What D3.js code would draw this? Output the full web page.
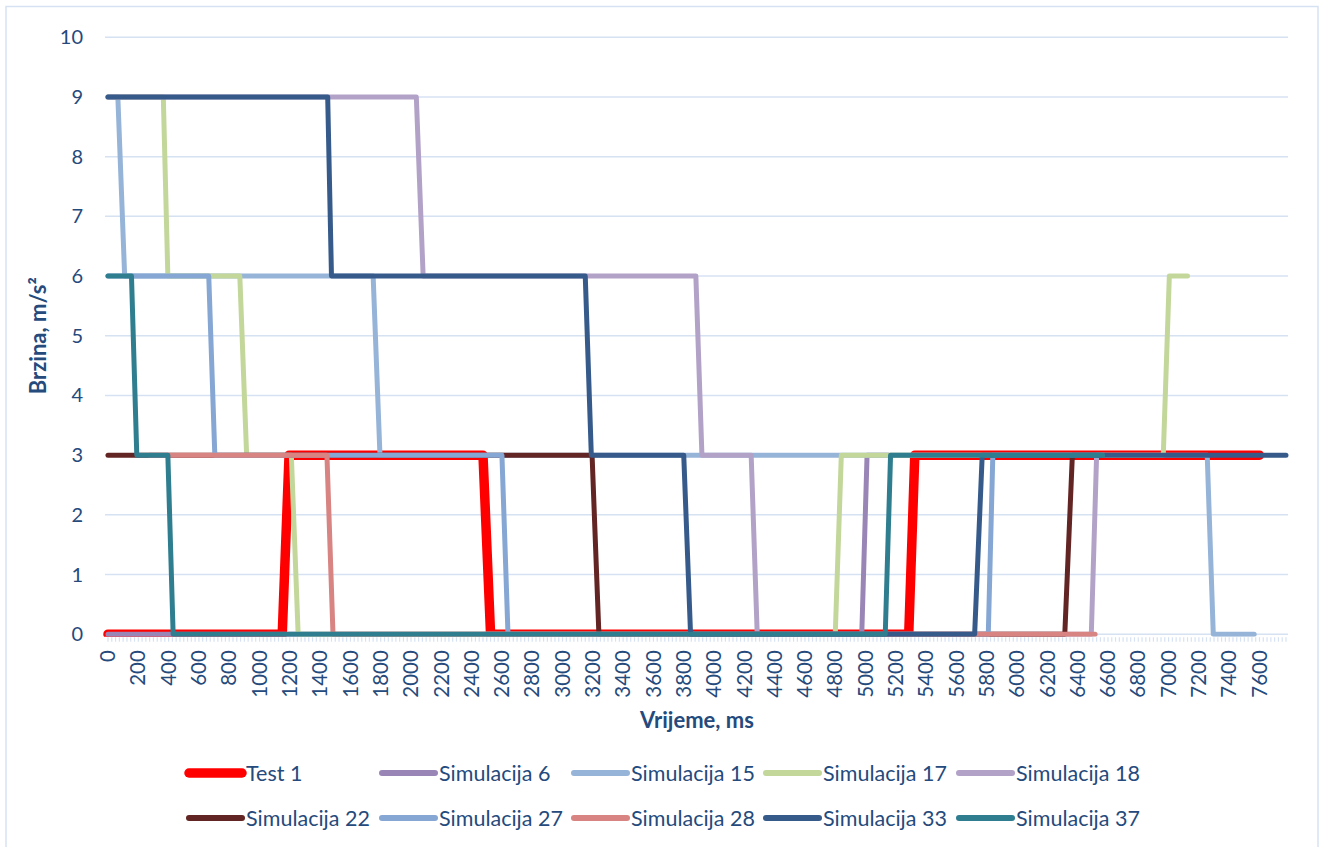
<!DOCTYPE html>
<html><head><meta charset="utf-8">
<script src="https://cdn.jsdelivr.net/npm/d3@7"></script>
<style>
html,body{margin:0;padding:0;background:#fff;}
text{font-family:Lato,"Open Sans",sans-serif;fill:#254A7C;}
</style></head>
<body>
<svg id="c" width="1319" height="847"></svg>
<script>
// ---- data (time ms, speed) ----
const seriesNames = ["Test 1","Simulacija 6","Simulacija 15","Simulacija 17","Simulacija 18","Simulacija 22","Simulacija 27","Simulacija 28","Simulacija 33","Simulacija 37"];
const seriesColors = ["#FF0000","#9A86B6","#96B4D8","#C3D79B","#B3A2C8","#632523","#86A7D3","#D78482","#365B8B","#2F7E90"];
const seriesWidths = [9.5,5,5,5,5,5,5,5,5,5];

const test1 = [[0,0],[1150,0],[1195,3],[2475,3],[2525,0],[5285,0],[5325,3],[7600,3]];
const sim6  = [[0,0],[4975,0],[5010,3],[5150,3]];
const sim15 = [[0,9],[65,9],[110,6],[1750,6],[1795,3],[7255,3],[7295,0],[7565,0]];
const sim17 = [[0,9],[365,9],[395,6],[870,6],[915,3],[1210,3],[1255,0],[4800,0],[4840,3],[6965,3],[7005,6],[7125,6]];
const sim18 = [[0,9],[2035,9],[2080,6],[3880,6],[3920,3],[4245,3],[4285,0],[6490,0],[6525,3],[6575,3]];
const sim22 = [[0,3],[3195,3],[3240,0],[6315,0],[6365,3],[6550,3]];
const sim27 = [[0,6],[665,6],[705,3],[2600,3],[2640,0],[5810,0],[5840,3],[6550,3]];
const sim28 = [[275,3],[1445,3],[1485,0],[6515,0]];
const sim33 = [[0,9],[1450,9],[1475,6],[3150,6],[3190,3],[3800,3],[3845,0],[5720,0],[5770,3],[7775,3]];
const sim37 = [[0,6],[155,6],[190,3],[395,3],[430,0],[5130,0],[5165,3],[6565,3]];
const seriesData = [test1,sim6,sim15,sim17,sim18,sim22,sim27,sim28,sim33,sim37];

const yTicks = [0,1,2,3,4,5,6,7,8,9,10];
const xTickLabels = [0,200,400,600,800,1000,1200,1400,1600,1800,2000,2200,2400,2600,2800,3000,3200,3400,3600,3800,4000,4200,4400,4600,4800,5000,5200,5400,5600,5800,6000,6200,6400,6600,6800,7000,7200,7400,7600];
const xMax = 7775, stepMs = 25;

// ---- layout ----
const svg = d3.select("#c");
const L = 108, R = 1286, T = 37.3, B = 634.2;
const x = d3.scaleLinear().domain([0, xMax]).range([L, R]);
const y = d3.scaleLinear().domain([0, 10]).range([B, T]);
const gridCol = "#D6E2F2";

// outer border
svg.append("rect").attr("x",6).attr("y",6.5).attr("width",1312).attr("height",850)
  .attr("fill","none").attr("stroke","#D6E2F2").attr("stroke-width",1.5);

// gridlines
svg.append("g").selectAll("line").data(yTicks).join("line")
  .attr("x1",105).attr("x2",1288).attr("y1",d=>y(d)).attr("y2",d=>y(d))
  .attr("stroke",gridCol).attr("stroke-width",1.5);

// minor ticks along x axis
svg.append("g").selectAll("line").data(d3.range(0, xMax+1, stepMs)).join("line")
  .attr("x1",d=>x(d)).attr("x2",d=>x(d)).attr("y1",B+3).attr("y2",B+7.5)
  .attr("stroke",gridCol).attr("stroke-width",1.2);

// y labels
svg.append("g").selectAll("text").data(yTicks).join("text")
  .attr("x",83).attr("y",d=>y(d)).attr("dy","0.35em").attr("text-anchor","end")
  .style("font-size","20px").text(d=>d);

// x labels rotated
svg.append("g").selectAll("text").data(xTickLabels).join("text")
  .attr("transform",d=>`translate(${x(d)},${B+16}) rotate(-90)`)
  .attr("dy","0.35em").attr("text-anchor","end")
  .style("font-size","20.5px").text(d=>d);

// axis titles
svg.append("text").attr("x",(L+R)/2).attr("y",728).attr("text-anchor","middle")
  .style("font-size","22px").style("font-weight","bold").text("Vrijeme, ms");
svg.append("text").attr("transform",`translate(46,${(T+B)/2}) rotate(-90)`)
  .attr("text-anchor","middle").style("font-size","22px").style("font-weight","bold")
  .text("Brzina, m/s²");

// clip
svg.append("clipPath").attr("id","pc").append("rect")
  .attr("x",L-6).attr("y",T-8).attr("width",R-L+12).attr("height",B-T+10.5);

const line = d3.line().x(d=>x(d[0])).y(d=>y(d[1]));
svg.append("g").attr("clip-path","url(#pc)").selectAll("path").data(seriesData).join("path")
  .attr("d",line).attr("fill","none")
  .attr("stroke",(d,i)=>seriesColors[i]).attr("stroke-width",(d,i)=>seriesWidths[i])
  .attr("stroke-linejoin","round").attr("stroke-linecap","round");

// legend
const legX = [187,380,572,764,957], legY = [773,818];
const leg = svg.append("g").selectAll("g").data(seriesNames).join("g")
  .attr("transform",(d,i)=>`translate(${legX[i%5]},${legY[Math.floor(i/5)]})`);
leg.append("line").attr("x1",2).attr("x2",55).attr("y1",0).attr("y2",0)
  .attr("stroke",(d,i)=>seriesColors[i]).attr("stroke-width",(d,i)=>i===0?9.5:6)
  .attr("stroke-linecap","round");
leg.append("text").attr("x",59).attr("dy","0.35em").style("font-size","21.5px").text(d=>d);
</script>
</body></html>
